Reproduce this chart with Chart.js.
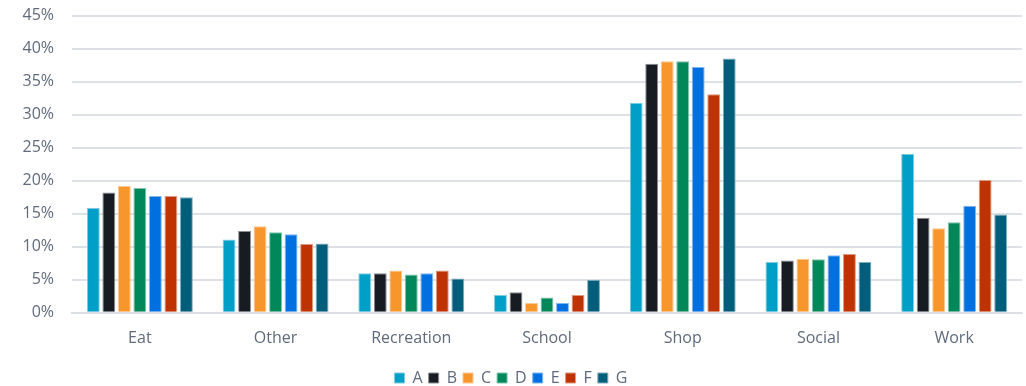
<!DOCTYPE html>
<html>
<head>
<meta charset="utf-8">
<script src="https://cdn.jsdelivr.net/npm/chart.js@4"></script>
<style>
  html, body { margin: 0; padding: 0; background: #fff; }
  #wrap { width: 1026px; height: 386px; }
</style>
</head>
<body>
<div id="wrap"><canvas id="tripChart"></canvas></div>
<script>
const categories = ['Eat', 'Other', 'Recreation', 'School', 'Shop', 'Social', 'Work'];
const seriesNames = ['A', 'B', 'C', 'D', 'E', 'F', 'G'];

// shares per category, in percent
const seriesA = [15.9, 11.1, 6.0, 2.7, 31.8, 7.7, 24.1];
const seriesB = [18.2, 12.4, 6.0, 3.1, 37.7, 7.9, 14.4];
const seriesC = [19.2, 13.1, 6.4, 1.5, 38.1, 8.2, 12.8];
const seriesD = [18.9, 12.2, 5.8, 2.3, 38.1, 8.1, 13.7];
const seriesE = [17.7, 11.9, 6.0, 1.5, 37.2, 8.7, 16.2];
const seriesF = [17.7, 10.4, 6.4, 2.7, 33.1, 8.9, 20.1];
const seriesG = [17.5, 10.5, 5.2, 5.0, 38.5, 7.7, 14.9];

const colors = ['#009fc8', '#171b22', '#f7962d', '#00875a', '#0070e0', '#bf3300', '#005e7a'];
const edges = ['#7fcbe0', '#8a8d92', '#fbc78f', '#7fc3ac', '#7fb7ef', '#df997f', '#7faebc'];

const allSeries = [seriesA, seriesB, seriesC, seriesD, seriesE, seriesF, seriesG];
const datasets = allSeries.map(function(vals, i) {
  return {
    label: seriesNames[i],
    data: vals,
    backgroundColor: colors[i],
    borderColor: edges[i],
    borderWidth: 1,
    categoryPercentage: 0.8,
    barPercentage: 0.83
  };
});

const labelColor = '#5f6b7b';
const gridColor = '#dde1e6';

new Chart(document.getElementById('tripChart').getContext('2d'), {
  type: 'bar',
  data: { labels: categories, datasets: datasets },
  options: {
    responsive: true,
    maintainAspectRatio: false,
    animation: false,
    layout: { padding: { top: 0, right: 4, left: 0, bottom: -10 } },
    plugins: {
      legend: {
        position: 'bottom',
        labels: {
          color: labelColor,
          font: { family: 'Open Sans', size: 16 },
          boxWidth: 10,
          boxHeight: 10,
          padding: 6
        }
      },
      tooltip: { enabled: false }
    },
    scales: {
      x: {
        grid: { display: false, drawTicks: false },
        border: { color: gridColor, width: 2 },
        ticks: {
          color: labelColor,
          font: { family: 'Open Sans', size: 16 },
          padding: 16
        }
      },
      y: {
        min: 0,
        max: 45,
        afterFit: function(scale) { scale.width = 72; },
        grid: { color: gridColor, lineWidth: 2, drawTicks: true, tickLength: 12, tickColor: 'rgba(0,0,0,0)' },
        border: { display: false },
        ticks: {
          stepSize: 5,
          color: labelColor,
          font: { family: 'Open Sans', size: 16 },
          padding: 6,
          callback: function(v) { return v + '%'; }
        }
      }
    }
  }
});
</script>
</body>
</html>
